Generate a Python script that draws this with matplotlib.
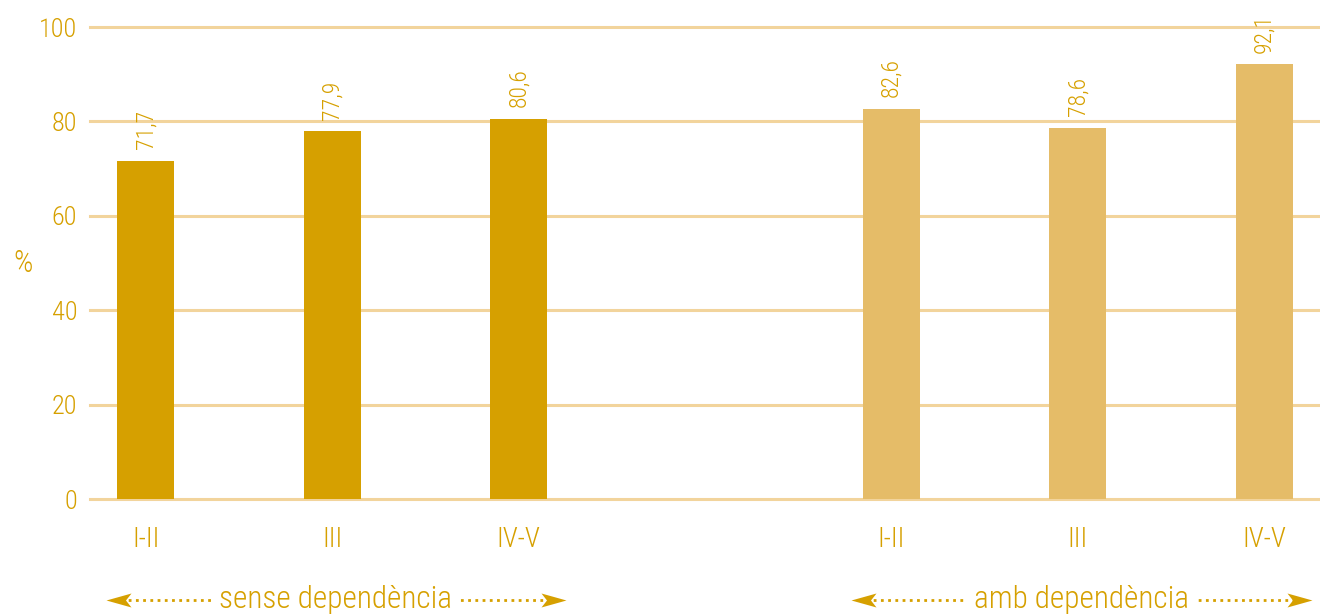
import matplotlib
matplotlib.use("Agg")
import matplotlib.pyplot as plt
from matplotlib.path import Path

# Donnees
categories = ["I-II", "III", "IV-V", "I-II", "III", "IV-V"]
positions = [0, 1, 2, 4, 5, 6]
valeurs = [71.7, 77.9, 80.6, 82.6, 78.6, 92.1]
etiquettes = ["71,7", "77,9", "80,6", "82,6", "78,6", "92,1"]
groupes = ["sense dependència", "amb dependència"]
groupe_debut = [0, 4]
groupe_fin = [2, 6]
yticks = [0, 20, 40, 60, 80, 100]

c_fonce = "#D6A000"
c_clair = "#E5BC68"
c_grille = "#F2D49C"
c_texte = "#D6A000"
couleurs = [c_fonce] * 3 + [c_clair] * 3

plt.rcParams["font.family"] = ["Roboto Condensed", "DejaVu Sans"]
plt.rcParams["font.weight"] = "light"

fig = plt.figure(figsize=(13.2, 6.14), dpi=100)
ax = fig.add_axes([0.068, 0.187, 0.932, 0.769])

ax.bar(positions, valeurs, width=0.305, color=couleurs, zorder=3)
for x, v, t in zip(positions, valeurs, etiquettes):
    ax.text(x, v + 2.5, t, rotation=90, ha="center", va="bottom",
            color=c_texte, fontsize=17)

ax.set_ylim(0, 100)
ax.set_xlim(-0.3, 6.3)
ax.set_yticks(yticks)
ax.set_xticks(positions)
ax.set_xticklabels(categories)
ax.tick_params(axis="both", length=0, colors=c_texte, labelsize=19)
ax.tick_params(axis="x", labelsize=20, pad=19)
ax.tick_params(axis="y", pad=9)
ax.grid(axis="y", color=c_grille, linewidth=2.2, zorder=0)
for gl in ax.get_ygridlines():
    gl.set_clip_on(False)
for s in ax.spines.values():
    s.set_visible(False)
ax.set_ylabel("%", rotation=0, color=c_texte, fontsize=22, fontweight="light",
              va="center", ha="center")
ax.yaxis.set_label_coords(-0.0545, 0.5)

# Fleches des groupes
fleche_d = Path([(0, 0), (-1.0, 0.28), (-0.78, 0), (-1.0, -0.28), (0, 0)],
                [Path.MOVETO, Path.LINETO, Path.LINETO, Path.LINETO, Path.CLOSEPOLY])
fleche_g = Path([(0, 0), (1.0, 0.28), (0.78, 0), (1.0, -0.28), (0, 0)],
                [Path.MOVETO, Path.LINETO, Path.LINETO, Path.LINETO, Path.CLOSEPOLY])
tr = ax.get_xaxis_transform()
y_fl = -0.213
for nom, d, f in zip(groupes, groupe_debut, groupe_fin):
    x0, x1 = d - 0.215, f + 0.255
    ax.plot([x0 + 0.08, x1 - 0.08], [y_fl, y_fl], transform=tr, clip_on=False,
            color=c_texte, linestyle=(0, (1, 1.6)), linewidth=2)
    ax.plot([x0], [y_fl], transform=tr, clip_on=False, marker=fleche_g,
            markersize=36, color=c_texte, markeredgewidth=0)
    ax.plot([x1], [y_fl], transform=tr, clip_on=False, marker=fleche_d,
            markersize=36, color=c_texte, markeredgewidth=0)
    ax.text((x0 + x1) / 2, y_fl, nom, transform=tr, ha="center", va="center",
            color=c_texte, fontsize=22.5, clip_on=False,
            bbox=dict(facecolor="white", edgecolor="none", pad=5))

fig.savefig("out.png", dpi=100)
